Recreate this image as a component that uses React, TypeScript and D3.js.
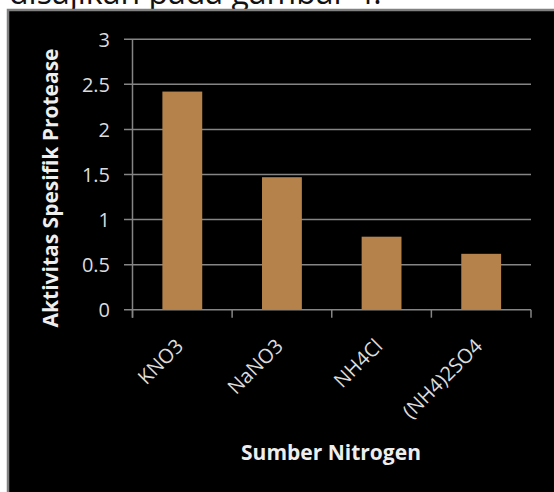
import React from "react";
import * as d3 from "d3";

const categories = ["KNO3", "NaNO3", "NH4Cl", "(NH4)2SO4"];
const values = [2.42, 1.47, 0.81, 0.62];
const yTicks = [0, 0.5, 1, 1.5, 2, 2.5, 3];
const yTitle = "Aktivitas Spesifik Protease";
const xTitle = "Sumber Nitrogen";
const caption = "disajikan pada gambar 4.";

const W = 554;
const H = 492;
const FONT = "'Open Sans', 'Noto Sans', sans-serif";

export default function App() {
  const x = d3
    .scaleBand<string>()
    .domain(categories)
    .range([132.5, 531])
    .paddingInner(0.6)
    .paddingOuter(0.3);
  const y = d3.scaleLinear().domain([0, 3]).range([309.7, 39.3]);
  const step = x.step();
  const x0 = 132.5;
  const gridColor = "#858585";
  const labelColor = "#dcdcdc";

  return (
    <div style={{ position: "absolute", left: 0, top: 0 }}>
      <svg width={W} height={H} style={{ display: "block" }}>
        <rect x={0} y={0} width={W} height={H} fill="#ffffff" />
        <text x={9} y={4} fontFamily={FONT} fontSize={32} fill="#111">
          {caption}
        </text>
        <rect
          x={8}
          y={10}
          width={W + 10}
          height={H + 10}
          fill="#000000"
          stroke="#808080"
          strokeWidth={2.5}
        />
        {/* gridlines */}
        {yTicks.map((t) => (
          <line
            key={"g" + t}
            x1={124}
            x2={531}
            y1={y(t)}
            y2={y(t)}
            stroke={gridColor}
            strokeWidth={1.5}
          />
        ))}
        {/* y axis line */}
        <line x1={x0} x2={x0} y1={y(3)} y2={y(0) + 8} stroke={gridColor} strokeWidth={1.5} />
        {/* x ticks */}
        {d3.range(categories.length + 1).map((i) => (
          <line
            key={"xt" + i}
            x1={x0 + i * step}
            x2={x0 + i * step}
            y1={y(0)}
            y2={y(0) + 8}
            stroke={gridColor}
            strokeWidth={1.5}
          />
        ))}
        {/* bars */}
        {categories.map((c, i) => (
          <rect
            key={c}
            x={x(c)}
            y={y(values[i])}
            width={x.bandwidth()}
            height={y(0) - y(values[i])}
            fill="#B4824A"
          />
        ))}
        {/* y tick labels */}
        {yTicks.map((t) => (
          <text
            key={"yl" + t}
            x={110}
            y={y(t)}
            textAnchor="end"
            dominantBaseline="central"
            fontFamily={FONT}
            fontSize={20}
            fill={labelColor}
          >
            {String(t)}
          </text>
        ))}
        {/* x tick labels */}
        {categories.map((c) => {
          const cx = (x(c) as number) + x.bandwidth() / 2 - 3;
          const cy = 342;
          return (
            <text
              key={"xl" + c}
              transform={`translate(${cx},${cy}) rotate(-45)`}
              textAnchor="end"
              dominantBaseline="central"
              fontFamily={FONT}
              fontSize={20}
              fill={labelColor}
            >
              {c}
            </text>
          );
        })}
        {/* axis titles */}
        <text
          transform={`translate(50,188) rotate(-90)`}
          textAnchor="middle"
          dominantBaseline="central"
          fontFamily={FONT}
          fontWeight="bold"
          fontSize={21}
          fill="#eeeeee"
        >
          {yTitle}
        </text>
        <text
          x={331}
          y={452}
          textAnchor="middle"
          dominantBaseline="central"
          fontFamily={FONT}
          fontWeight="bold"
          fontSize={21}
          fill="#eeeeee"
        >
          {xTitle}
        </text>
      </svg>
    </div>
  );
}
